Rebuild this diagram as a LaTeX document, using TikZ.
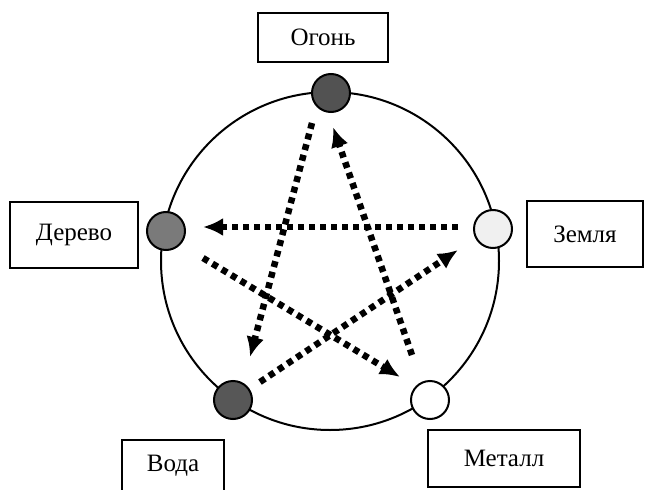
\documentclass[tikz,border=0pt]{standalone}
\usepackage{fontspec}
\setmainfont{Liberation Serif}
\usetikzlibrary{arrows.meta}
\begin{document}
\begin{tikzpicture}[x=1pt,y=-1pt,
  labelbox/.style={draw, line width=1.8pt, rectangle, inner sep=0pt, font=\fontsize{25}{29}\selectfont},
  elem/.style={draw, line width=2pt, circle, minimum size=38pt, inner sep=0pt},
  flow/.style={line width=6.5pt, dash pattern=on 6pt off 5pt, -{Latex[length=20pt,width=18pt]}}
]
\useasboundingbox (0,0) rectangle (646,490);
\clip (0,0) rectangle (646,490);
\node (center) at (330,261) {};
\draw[line width=2pt] (330,261) circle[radius=169];
% element discs
\node[elem, fill=black!68] (ogon) at (331,93) {};
\node[elem, fill=black!52] (derevo) at (166,231) {};
\node[elem, fill=black!6] (zemlya) at (493,229) {};
\node[elem, fill=black!66] (voda) at (233,400) {};
\node[elem, fill=white] (metall) at (430,400) {};
% labels
\node[labelbox, minimum width=130pt, minimum height=49pt] (ogonL) at (323,37.5) {Огонь};
\node[labelbox, minimum width=128pt, minimum height=66pt] (derevoL) at (74,235) {Дерево};
\node[labelbox, minimum width=116pt, minimum height=66pt] (zemlyaL) at (585,234) {Земля};
\node[labelbox, minimum width=152pt, minimum height=57pt] (metallL) at (504,458.5) {Металл};
\node[labelbox, draw=none] (vodaL) at (173,466) {Вода};
\draw[line width=1.8pt] (122,500) |- (224,440) -- (224,500);
% arrow end points
\coordinate (a1) at (312,123); \coordinate (b1) at (250,357);
\coordinate (a2) at (412,355); \coordinate (b2) at (333,127);
\coordinate (a3) at (458,227); \coordinate (b3) at (203,227);
\coordinate (a4) at (203,258); \coordinate (b4) at (400,377);
\coordinate (a5) at (260,382); \coordinate (b5) at (458,250);
\draw[flow] (a1) -- (b1);
\draw[flow] (a2) -- (b2);
\draw[flow] (a3) -- (b3);
\draw[flow] (a4) -- (b4);
\draw[flow] (a5) -- (b5);
\end{tikzpicture}
\end{document}
